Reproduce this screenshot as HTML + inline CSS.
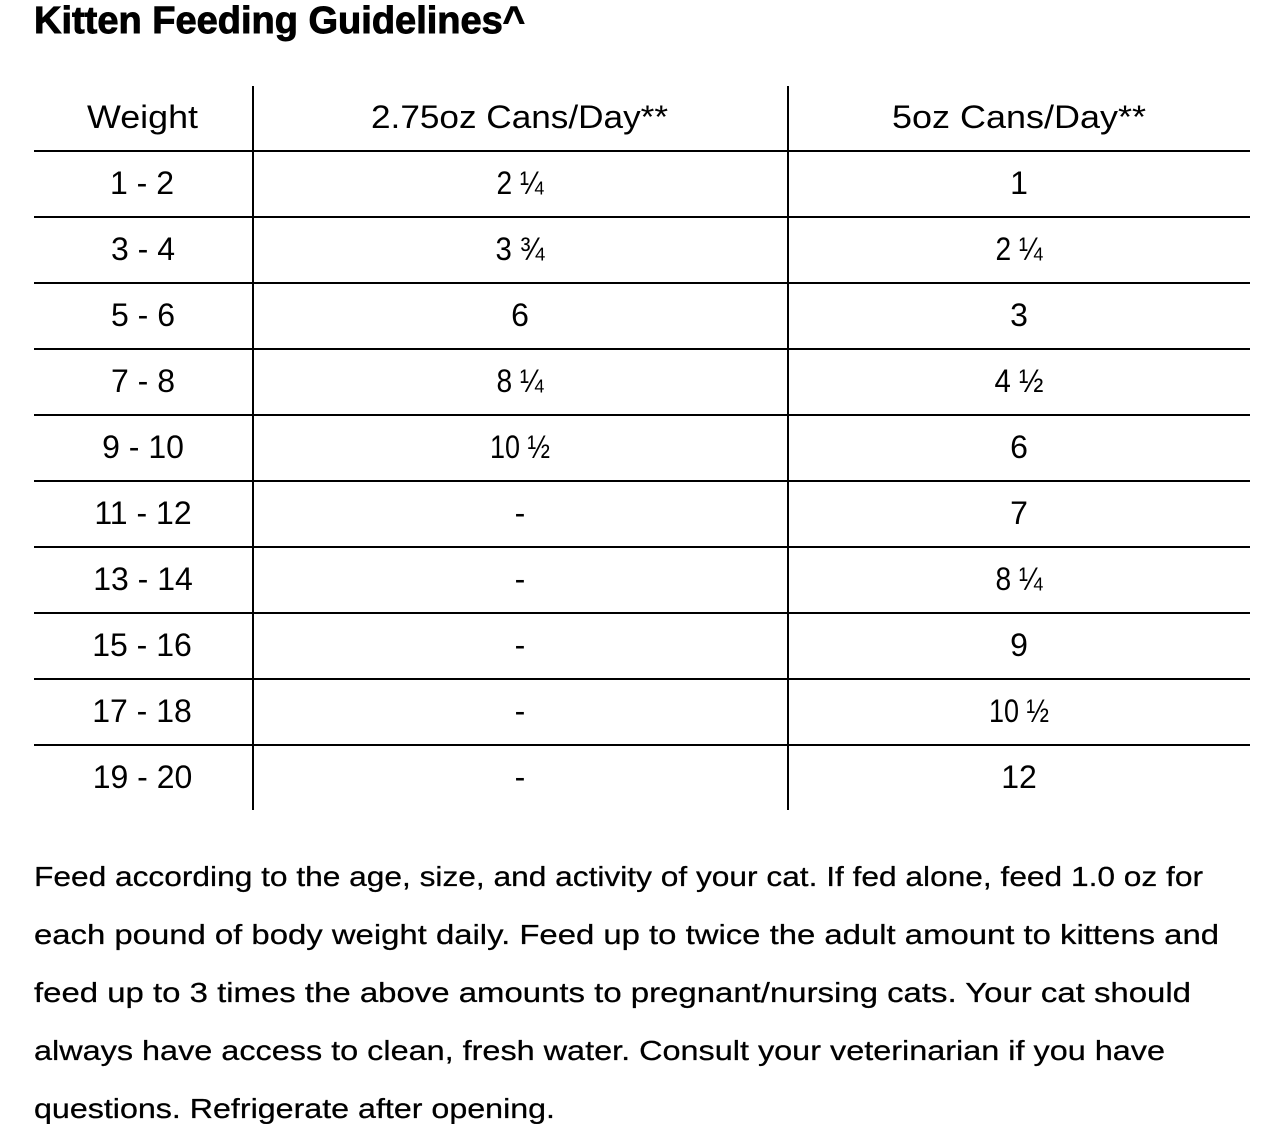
<!DOCTYPE html>
<html>
<head>
<meta charset="utf-8">
<style>
  html, body { margin:0; padding:0; background:#fff; }
  body { width:1266px; height:1124px; overflow:hidden; }
  svg { display:block; }
  text { font-family: "Liberation Sans", "DejaVu Sans", sans-serif; fill:#000; }
  .t { font-size:38px; font-weight:bold; stroke:#000; stroke-width:0.9px; }
  .c { font-size:32px; text-anchor:middle; }
  .p { font-size:28px; stroke:#000; stroke-width:0.25px; }
</style>
</head>
<body>
<svg width="1266" height="1124" viewBox="0 0 1266 1124" xmlns="http://www.w3.org/2000/svg">
  <rect x="0" y="0" width="1266" height="1124" fill="#fff"/>
  <text class="t" x="34" y="33" textLength="491" lengthAdjust="spacingAndGlyphs">Kitten Feeding Guidelines^</text>

  <!-- table lines -->
  <g fill="#000">
    <rect x="252" y="86" width="2" height="724"/>
    <rect x="787" y="86" width="2" height="724"/>
    <rect x="34" y="150" width="1216" height="2"/>
    <rect x="34" y="216" width="1216" height="2"/>
    <rect x="34" y="282" width="1216" height="2"/>
    <rect x="34" y="348" width="1216" height="2"/>
    <rect x="34" y="414" width="1216" height="2"/>
    <rect x="34" y="480" width="1216" height="2"/>
    <rect x="34" y="546" width="1216" height="2"/>
    <rect x="34" y="612" width="1216" height="2"/>
    <rect x="34" y="678" width="1216" height="2"/>
    <rect x="34" y="744" width="1216" height="2"/>
  </g>

  <!-- header -->
  <text class="c" x="142.5" y="128" textLength="111" lengthAdjust="spacingAndGlyphs">Weight</text>
  <text class="c" x="519.5" y="128" textLength="297" lengthAdjust="spacingAndGlyphs">2.75oz Cans/Day**</text>
  <text class="c" x="1019" y="128" textLength="254" lengthAdjust="spacingAndGlyphs">5oz Cans/Day**</text>

  <!-- rows -->
  <text class="c" x="142" y="194">1 - 2</text>
  <text class="c" x="520" y="194" textLength="47" lengthAdjust="spacingAndGlyphs">2 ¼</text>
  <text class="c" x="1019" y="194">1</text>

  <text class="c" x="143" y="260">3 - 4</text>
  <text class="c" x="520" y="260" textLength="49" lengthAdjust="spacingAndGlyphs">3 ¾</text>
  <text class="c" x="1019" y="260" textLength="47" lengthAdjust="spacingAndGlyphs">2 ¼</text>

  <text class="c" x="143" y="326">5 - 6</text>
  <text class="c" x="520" y="326">6</text>
  <text class="c" x="1019" y="326">3</text>

  <text class="c" x="143" y="392">7 - 8</text>
  <text class="c" x="520" y="392" textLength="47" lengthAdjust="spacingAndGlyphs">8 ¼</text>
  <text class="c" x="1019" y="392" textLength="49" lengthAdjust="spacingAndGlyphs">4 ½</text>

  <text class="c" x="143" y="458">9 - 10</text>
  <text class="c" x="520" y="458" textLength="60" lengthAdjust="spacingAndGlyphs">10 ½</text>
  <text class="c" x="1019" y="458">6</text>

  <text class="c" x="143" y="524">11 - 12</text>
  <text class="c" x="520" y="524">-</text>
  <text class="c" x="1019" y="524">7</text>

  <text class="c" x="143" y="590">13 - 14</text>
  <text class="c" x="520" y="590">-</text>
  <text class="c" x="1019" y="590" textLength="47" lengthAdjust="spacingAndGlyphs">8 ¼</text>

  <text class="c" x="142" y="656">15 - 16</text>
  <text class="c" x="520" y="656">-</text>
  <text class="c" x="1019" y="656">9</text>

  <text class="c" x="142" y="722">17 - 18</text>
  <text class="c" x="520" y="722">-</text>
  <text class="c" x="1019" y="722" textLength="60" lengthAdjust="spacingAndGlyphs">10 ½</text>

  <text class="c" x="142.5" y="788">19 - 20</text>
  <text class="c" x="520" y="788">-</text>
  <text class="c" x="1019" y="788">12</text>

  <!-- paragraph -->
  <text class="p" x="34" y="886" textLength="1169" lengthAdjust="spacingAndGlyphs">Feed according to the age, size, and activity of your cat. If fed alone, feed 1.0 oz for</text>
  <text class="p" x="34" y="944" textLength="1185" lengthAdjust="spacingAndGlyphs">each pound of body weight daily. Feed up to twice the adult amount to kittens and</text>
  <text class="p" x="34" y="1002" textLength="1157" lengthAdjust="spacingAndGlyphs">feed up to 3 times the above amounts to pregnant/nursing cats. Your cat should</text>
  <text class="p" x="34" y="1060" textLength="1131" lengthAdjust="spacingAndGlyphs">always have access to clean, fresh water. Consult your veterinarian if you have</text>
  <text class="p" x="34" y="1118" textLength="521" lengthAdjust="spacingAndGlyphs">questions. Refrigerate after opening.</text>
</svg>
</body>
</html>
